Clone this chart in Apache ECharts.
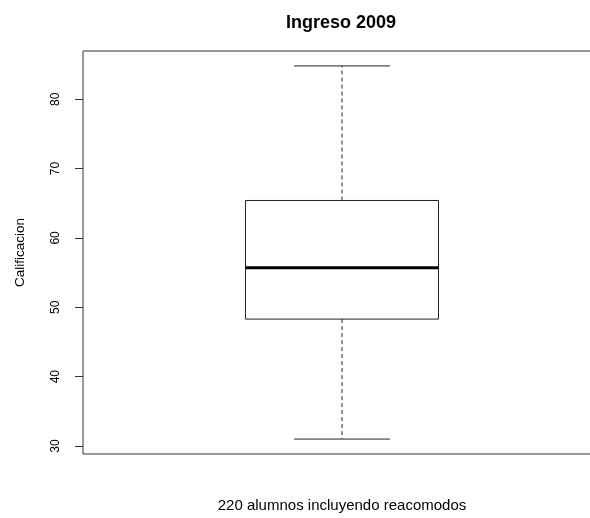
<!DOCTYPE html>
<html>
<head>
<meta charset="utf-8">
<script src="https://cdn.jsdelivr.net/npm/echarts@6/dist/echarts.min.js"></script>
<style>
html,body{margin:0;padding:0;background:#fff;overflow:hidden;}
#c{width:590px;height:518px;}
</style>
</head>
<body>
<div id="c"></div>
<script>
const categories = ['Ingreso 2009'];
const whiskerLow = [31];
const quartile1 = [48.3];
const medians = [55.7];
const quartile3 = [65.4];
const whiskerHigh = [84.8];
const tickValues = [30, 40, 50, 60, 70, 80];

const lo = Math.min(...whiskerLow), hi = Math.max(...whiskerHigh);
const pad = 0.04 * (hi - lo);
const yMin = lo - pad, yMax = hi + pad;

const data = categories.map((c, i) => [i, whiskerLow[i], quartile1[i], medians[i], quartile3[i], whiskerHigh[i]]);

const FONT = '"Liberation Sans", Arial, sans-serif';
const chart = echarts.init(document.getElementById('c'));
chart.setOption({
  animation: false,
  backgroundColor: '#fff',
  title: {
    text: 'Ingreso 2009',
    left: 281, top: 9,
    textStyle: {fontFamily: FONT, fontSize: 18, fontWeight: 'bold', color: '#000'}
  },
  grid: {left: 83, right: -11, top: 51, bottom: 64, show: true, borderColor: '#333', borderWidth: 1, backgroundColor: 'transparent', containLabel: false, outerBoundsMode: 'none'},
  xAxis: {
    type: 'category', data: categories,
    axisLine: {show: false}, axisTick: {show: false}, axisLabel: {show: false}, splitLine: {show: false},
    name: '220 alumnos incluyendo reacomodos', nameLocation: 'middle', nameGap: 44,
    nameTextStyle: {fontFamily: FONT, fontSize: 15, color: '#000'}
  },
  yAxis: {
    type: 'value', min: yMin, max: yMax,
    axisLine: {show: false},
    splitLine: {show: false},
    axisTick: {show: true, length: 8, customValues: tickValues, lineStyle: {color: '#333'}},
    axisLabel: {show: true, customValues: tickValues, rotate: 90, margin: 21, fontFamily: FONT, fontSize: 12, color: '#000'},
    name: 'Calificacion', nameLocation: 'middle', nameGap: 56, nameRotate: 90,
    nameTextStyle: {fontFamily: FONT, fontSize: 13.5, color: '#000'}
  },
  series: [{
    type: 'custom',
    data: data,
    clip: false,
    renderItem: function (params, api) {
      const x = api.value(0);
      const bw = api.size([1, 0])[0];
      const pLow = api.coord([x, api.value(1)]);
      const pQ1 = api.coord([x, api.value(2)]);
      const pMed = api.coord([x, api.value(3)]);
      const pQ3 = api.coord([x, api.value(4)]);
      const pHigh = api.coord([x, api.value(5)]);
      const cx = pMed[0];
      const hb = bw * 0.3726 / 2;
      const hc = bw * 0.185 / 2;
      const stroke = {stroke: '#222', lineWidth: 1, fill: null};
      return {
        type: 'group',
        children: [
          {type: 'line', shape: {x1: cx, y1: pQ3[1], x2: cx, y2: pHigh[1]}, style: Object.assign({}, stroke, {lineDash: [4, 3]})},
          {type: 'line', shape: {x1: cx, y1: pQ1[1], x2: cx, y2: pLow[1]}, style: Object.assign({}, stroke, {lineDash: [4, 3]})},
          {type: 'line', shape: {x1: cx - hc, y1: pHigh[1], x2: cx + hc, y2: pHigh[1]}, style: stroke},
          {type: 'line', shape: {x1: cx - hc, y1: pLow[1], x2: cx + hc, y2: pLow[1]}, style: stroke},
          {type: 'rect', shape: {x: cx - hb, y: pQ3[1], width: 2 * hb, height: pQ1[1] - pQ3[1]}, style: {stroke: '#222', lineWidth: 1, fill: '#fff'}},
          {type: 'line', shape: {x1: cx - hb, y1: pMed[1], x2: cx + hb, y2: pMed[1]}, style: {stroke: '#000', lineWidth: 3}}
        ]
      };
    }
  }]
});
</script>
</body>
</html>
